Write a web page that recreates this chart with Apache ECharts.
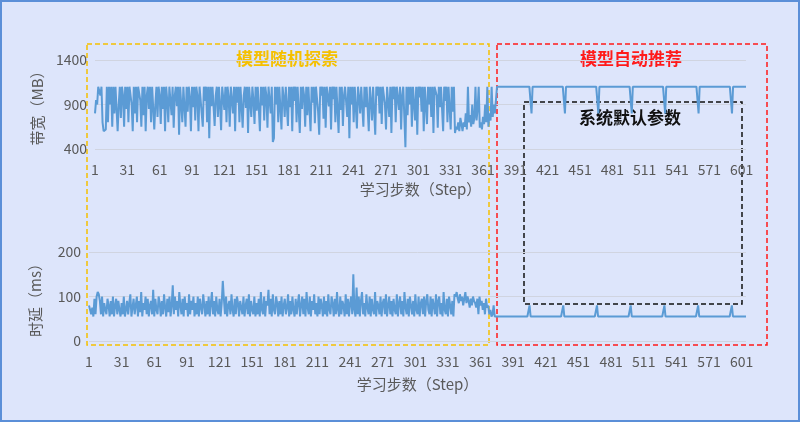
<!DOCTYPE html>
<html><head><meta charset="utf-8">
<script src="https://cdn.jsdelivr.net/npm/echarts@6/dist/echarts.min.js"></script>
<style>html,body{margin:0;padding:0;background:#dde5fb}#c{width:800px;height:422px;box-sizing:border-box;border:2px solid #5b8fd8}</style>
</head><body><div id="c"></div>
<script>
const exploreBandwidth = [
800,950,900,1100,1100,1000,1100,700,600,580,620,1100,700,1100,900,1100,650,1100,800,1100,1100,600,900,1100,750,1100,1000,650,1100,850,1100,
700,1100,1100,900,600,1100,800,1100,700,1100,1100,950,650,1100,780,1100,600,1000,1100,850,1100,700,1100,1100,620,900,1100,760,1100,1000,680,
1100,850,1100,600,1100,950,700,1100,1100,780,1100,640,1000,1100,880,1100,560,1100,900,700,1100,1100,650,1100,820,1100,980,600,1100,870,1100,
720,1100,1000,600,1100,1100,800,650,1100,940,1100,700,1100,520,1100,880,1100,1100,660,1000,1100,760,1100,900,610,1100,1100,840,1100,700,1100,
980,650,1100,1100,800,1100,600,1100,920,1100,700,1100,1100,640,1000,1100,860,1100,580,1100,1100,760,1100,950,680,1100,830,1100,1100,600,1100,
890,1100,720,1100,1000,640,1100,1100,800,1100,480,520,1100,900,1100,700,1100,1100,620,1100,980,760,1100,1100,660,1100,870,1100,600,1100,940,
1100,700,1100,1100,580,1100,850,1100,1000,650,1100,780,1100,1100,600,1100,920,1100,690,1100,1100,820,560,1100,1000,1100,740,1100,640,1100,1100,
880,1100,620,1100,960,1100,700,1100,1100,580,1100,840,1100,660,1000,1100,1100,760,1100,520,1100,900,1100,700,1100,1100,630,1100,980,800,1100,
1100,650,1100,870,1100,1100,600,1100,940,720,1100,1100,560,1100,1000,1100,800,1100,680,1100,1100,900,620,1100,1100,760,1100,580,1100,960,1100,
700,1100,1100,840,1100,620,1000,1100,1100,420,1100,780,1100,900,1100,650,1100,1100,720,1100,560,1100,980,1100,820,1100,600,1100,1100,680,1100,
900,1100,760,1100,580,1100,1100,1000,640,1100,870,1100,1100,600,1100,940,1100,700,1100,1100,620,1100,820,1100,580,650,620,700,600,750,680,
600,700,650,800,620,1100,700,780,650,900,680,750,1100,720,850,1100,640,700,620,760,680,900,700,1100,650,800,720,1100,760,900,800
];
const exploreLatency = [
80,70,60,75,55,95,60,100,110,105,90,60,100,55,85,70,60,95,80,55,90,60,100,55,80,95,60,90,70,55,85,
60,100,55,70,90,60,85,105,55,75,95,60,80,100,55,90,65,110,55,85,70,100,60,95,55,80,90,60,115,55,95,
70,60,100,85,55,90,60,105,75,55,95,65,100,55,80,125,60,100,70,90,55,110,80,60,95,55,100,70,85,55,105,
60,90,70,100,55,85,60,100,55,95,75,60,105,80,55,90,60,100,55,85,110,60,90,55,100,70,60,95,55,85,135,
95,60,100,55,80,90,60,105,70,55,95,60,100,85,55,90,75,60,100,55,80,95,60,105,55,90,70,60,100,55,85,
60,95,55,110,70,60,100,55,90,80,115,60,95,55,105,70,60,100,85,55,90,60,100,55,80,95,60,75,105,55,90,
60,100,70,55,95,60,85,105,55,80,100,60,95,55,110,75,60,100,55,90,70,105,60,85,55,100,60,95,80,55,100,
60,90,55,105,70,60,100,85,55,95,60,110,70,55,100,60,90,80,55,105,60,95,55,85,100,60,150,70,55,120,60,
100,55,90,110,60,85,55,105,75,60,100,55,95,70,60,110,55,90,80,60,100,55,85,95,60,105,55,80,100,60,90,
55,95,70,60,105,55,85,100,60,90,55,110,75,60,95,55,100,80,60,90,55,105,70,60,100,55,85,95,60,100,55,
90,105,70,60,100,55,95,80,60,105,55,90,100,60,85,55,110,70,60,95,55,100,80,60,90,55,105,100,110,95,85,
105,90,100,80,95,110,85,100,90,75,95,80,100,90,85,75,95,60,100,80,90,70,85,60,95,75,80,60,70,55,60
];
const totalSteps = 605;
const recBandwidth = 1100, recBandwidthDip = 800;
const recLatency = 55, recLatencySpike = 80;
const dipSteps = [373, 406, 437, 468, 499, 530, 561, 592];
const yTopTicks = [400, 900, 1400];
const yBotTicks = [0, 100, 200];

const steps = [];
for (let i = 1; i <= totalSteps; i++) steps.push(String(i));
const bw = [], lat = [];
for (let i = 1; i <= totalSteps; i++) {
  if (i <= exploreBandwidth.length) { bw.push(exploreBandwidth[i-1]); lat.push(exploreLatency[i-1]); }
  else { const d = dipSteps.includes(i); bw.push(d ? recBandwidthDip : recBandwidth); lat.push(d ? recLatencySpike : recLatency); }
}
const chart = echarts.init(document.getElementById('c'));
const font = '"Noto Sans CJK SC", sans-serif';
const xAx = (gi) => ({
  type:'category', gridIndex:gi, data:steps, boundaryGap:false,
  axisLine:{show:false}, axisTick:{show:false},
  axisLabel:{interval:(idx)=>idx%30===0, color:'#595959', fontSize:14, margin:14, fontFamily:font},
  name:'学习步数（Step）', nameLocation:'middle', nameGap:gi===0?33:36,
  nameTextStyle:{color:'#595959', fontSize:15, fontFamily:font}
});
const yAx = (gi, min, max, name) => ({
  type:'value', gridIndex:gi, min, max, interval:(max-min)/2,
  axisLabel:{color:'#595959', fontSize:14, fontFamily:font, formatter:(v)=>String(v)},
  splitLine:{lineStyle:{color:'#d0d4e0'}},
  name, nameLocation:'middle', nameGap:46, nameRotate:90,
  nameTextStyle:{color:'#595959', fontSize:15, fontFamily:font}
});
chart.setOption({
  backgroundColor:'#dde5fb',
  animation:false,
  grid:[{left:93, right:52, top:58, height:89},{left:87, right:52, top:250, height:89}],
  xAxis:[xAx(0), xAx(1)],
  yAxis:[yAx(0, yTopTicks[0], yTopTicks[2], '带宽（MB）'), yAx(1, yBotTicks[0], yBotTicks[2], '时延（ms）')],
  series:[
    {type:'line', xAxisIndex:0, yAxisIndex:0, data:bw, symbol:'none', lineStyle:{color:'#5b9bd5', width:2}},
    {type:'line', xAxisIndex:1, yAxisIndex:1, data:lat, symbol:'none', lineStyle:{color:'#5b9bd5', width:2}}
  ],
  graphic:[
    {type:'rect', shape:{x:85,y:42,width:402,height:301}, style:{fill:'none', stroke:'#f5c000', lineWidth:1.5, lineDash:[5,3]}},
    {type:'rect', shape:{x:495,y:42,width:270,height:301}, style:{fill:'none', stroke:'#ff1a1a', lineWidth:1.5, lineDash:[5,3]}},
    {type:'rect', shape:{x:522,y:100,width:218,height:202}, style:{fill:'none', stroke:'#111', lineWidth:1.5, lineDash:[5,3]}},
    {type:'text', left:234, top:48, style:{text:'模型随机探索', fill:'#f5c000', fontSize:17, fontWeight:'bold', fontFamily:font}},
    {type:'text', left:578, top:48, style:{text:'模型自动推荐', fill:'#ff1a1a', fontSize:17, fontWeight:'bold', fontFamily:font}},
    {type:'text', left:577, top:107, style:{text:'系统默认参数', fill:'#111', fontSize:17, fontWeight:'bold', fontFamily:font}}
  ]
});
</script></body></html>
